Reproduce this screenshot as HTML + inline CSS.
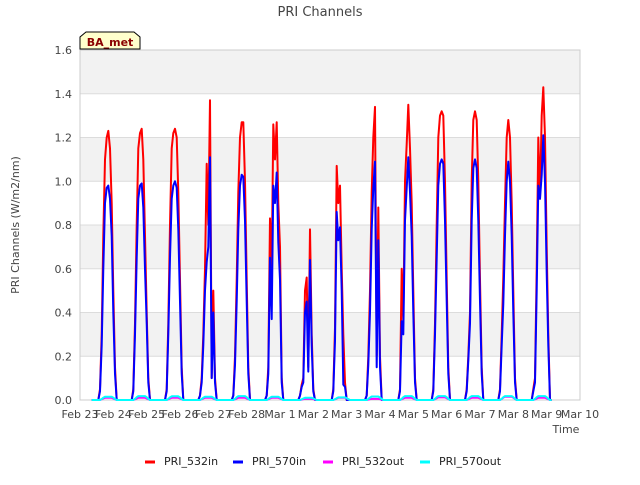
<!DOCTYPE html>
<html><head><meta charset="utf-8">
<style>
body{margin:0;background:#fff;font-family:"Liberation Sans","DejaVu Sans",sans-serif;}
svg text{font-family:"DejaVu Sans","Liberation Sans",sans-serif;}
</style></head>
<body>
<svg id="chart" width="640" height="480" xmlns="http://www.w3.org/2000/svg">
<text x="320" y="16" text-anchor="middle" font-size="13" fill="#444">PRI Channels</text>
<g id="plot"></g>
<text transform="translate(19,225) rotate(-90)" text-anchor="middle" font-size="11" fill="#444">PRI Channels (W/m2/nm)</text>
<text x="566" y="433" text-anchor="middle" font-size="11" fill="#444">Time</text>
<g>
<path d="M80,49 L80,37 L86,32 L134,32 L140,37 L140,49 Z" fill="#ffffcc" stroke="#000" stroke-width="1"/>
<text x="110" y="46" text-anchor="middle" font-size="11" font-weight="bold" fill="#8b0000">BA_met</text>
</g>
<g id="legend"></g>
</svg>
<script>
const offsets=[0.55,0.6,0.65,0.7,0.75,0.8,0.85,0.9,0.95,1.0,1.05,1.1,1.15];
const pri532in=[
[0,0.05,0.3,0.75,1.1,1.2,1.23,1.15,0.9,0.5,0.15,0,0],
[0,0.05,0.35,0.8,1.15,1.22,1.24,1.1,0.75,0.4,0.1,0,0],
[0,0.05,0.35,0.8,1.15,1.22,1.24,1.2,0.95,0.55,0.15,0,0],
[0,0.02,0.1,0.3,0.6,1.08,0.8,1.37,0.1,0.5,0.1,0,0],
[0,0.02,0.2,0.55,0.95,1.2,1.27,1.27,1.0,0.55,0.15,0,0],
[0,0.02,0.15,0.83,0.6,1.26,1.1,1.27,0.9,0.7,0.1,0,0],
[0,0.02,0.07,0.1,0.5,0.56,0.15,0.78,0.3,0.05,0,0,0],
[0,0.05,0.33,1.07,0.9,0.98,0.6,0.3,0.08,0,0,0,0],
[0,0.02,0.2,0.5,0.95,1.2,1.34,0.2,0.88,0.2,0,0,0],
[0,0.05,0.6,0.35,1.0,1.17,1.35,1.15,0.9,0.5,0.1,0,0],
[0,0.05,0.35,0.8,1.2,1.3,1.32,1.3,1.0,0.55,0.15,0,0],
[0,0.05,0.2,0.4,1.0,1.28,1.32,1.28,1.0,0.55,0.15,0,0],
[0,0.05,0.3,0.56,0.9,1.2,1.28,1.2,0.9,0.5,0.1,0,0],
[0,0.05,0.1,0.6,1.2,0.92,1.3,1.43,1.2,0.7,0.3,0,0]];
const pri570in=[
[0,0.04,0.25,0.6,0.9,0.97,0.98,0.92,0.75,0.4,0.12,0,0],
[0,0.04,0.3,0.65,0.92,0.98,0.99,0.88,0.6,0.35,0.08,0,0],
[0,0.04,0.3,0.65,0.92,0.98,1.0,0.97,0.78,0.45,0.12,0,0],
[0,0.02,0.08,0.25,0.5,0.63,0.7,1.11,0.1,0.4,0.08,0,0],
[0,0.02,0.16,0.45,0.78,0.98,1.03,1.02,0.82,0.45,0.12,0,0],
[0,0.02,0.12,0.65,0.37,0.98,0.9,1.04,0.72,0.55,0.08,0,0],
[0,0.02,0.06,0.08,0.4,0.45,0.13,0.64,0.25,0.04,0,0,0],
[0,0.04,0.27,0.86,0.73,0.79,0.5,0.07,0.06,0,0,0,0],
[0,0.02,0.16,0.4,0.78,0.97,1.09,0.15,0.73,0.15,0,0,0],
[0,0.04,0.36,0.3,0.82,0.97,1.11,0.95,0.75,0.4,0.08,0,0],
[0,0.04,0.3,0.65,0.98,1.08,1.1,1.08,0.82,0.45,0.12,0,0],
[0,0.04,0.18,0.35,0.82,1.06,1.1,1.06,0.82,0.45,0.12,0,0],
[0,0.04,0.25,0.44,0.75,1.0,1.09,1.0,0.75,0.4,0.08,0,0],
[0,0.04,0.08,0.5,0.98,0.92,1.03,1.21,1.0,0.58,0.25,0,0]];
const pri532outPeak=[0.01,0.01,0.01,0.01,0.01,0.01,0.005,0.01,0.005,0.01,0.012,0.01,0.015,0.01];
const pri570outPeak=[0.015,0.018,0.017,0.015,0.018,0.015,0.01,0.012,0.016,0.018,0.018,0.018,0.018,0.018];
const outShape=[0,0,0.3,0.7,1,1,1,1,1,0.7,0.3,0,0];
const yTicks=[0,0.2,0.4,0.6,0.8,1.0,1.2,1.4,1.6];
const xTickLabels=["Feb 23","Feb 24","Feb 25","Feb 26","Feb 27","Feb 28","Mar 1","Mar 2","Mar 3","Mar 4","Mar 5","Mar 6","Mar 7","Mar 8","Mar 9","Mar 10"];
const seriesNames=["PRI_532in","PRI_570in","PRI_532out","PRI_570out"];
const seriesColors=["#ff0000","#0000ff","#ff00ff","#00ffff"];

const X0=80,X1=580,Y0=400,Y1=50;
const xs=d=>X0+(X1-X0)*d/15;
const ys=v=>Y0-(Y0-Y1)*v/1.6;
const NS="http://www.w3.org/2000/svg";
const plot=document.getElementById('plot');
function mk(tag,attrs,parent){const e=document.createElementNS(NS,tag);for(const k in attrs)e.setAttribute(k,attrs[k]);parent.appendChild(e);return e;}

for(let i=0;i<yTicks.length-1;i++){
  if(i%2===1){
    const r=mk('rect',{x:X0,y:ys(yTicks[i+1]),width:X1-X0,height:ys(yTicks[i])-ys(yTicks[i+1]),fill:'#f2f2f2'},plot);
    
    
  }
}
yTicks.forEach(t=>{
  const l=mk('line',{x1:X0,x2:X1,y1:ys(t),y2:ys(t),stroke:'#dcdcdc','stroke-width':1},plot);
  
  
  const tx=mk('text',{x:X0-8,y:ys(t)+4,'text-anchor':'end','font-size':11,fill:'#444'},plot);
  tx.textContent=t.toFixed(1);
  
  
});
const frame=mk('rect',{x:X0,y:Y1,width:X1-X0,height:Y0-Y1,fill:'none',stroke:'#ccc'},plot);


xTickLabels.forEach((lab,i)=>{
  const tx=mk('text',{x:xs(i),y:418,'text-anchor':'middle','font-size':11,fill:'#444'},plot);
  tx.textContent=lab;
  
  
});
function seriesPoints(getVal){
  const pts=[[xs(0.35),ys(0)]];
  for(let d=0;d<14;d++)offsets.forEach((o,k)=>pts.push([xs(d+o),ys(getVal(d,k))]));
  return pts.map(p=>p[0].toFixed(1)+','+p[1].toFixed(1)).join(' ');
}
const getters=[(d,k)=>pri532in[d][k],(d,k)=>pri570in[d][k],(d,k)=>pri532outPeak[d]*outShape[k],(d,k)=>pri570outPeak[d]*outShape[k]];
getters.forEach((g,i)=>{
  const p=mk('polyline',{points:seriesPoints(g),fill:'none',stroke:seriesColors[i],'stroke-width':2,'stroke-linejoin':'round'},plot);
  
  
});
const legend=document.getElementById('legend');
const lx=[145,233,323,420];
seriesNames.forEach((n,i)=>{
  const g=mk('g',{},legend);
  
  
  mk('line',{x1:lx[i],x2:lx[i]+10,y1:462,y2:462,stroke:seriesColors[i],'stroke-width':3},g);
  const t=mk('text',{x:lx[i]+19,y:465,'font-size':11,fill:'#222'},g);
  t.textContent=n;
});
</script>
</body></html>
